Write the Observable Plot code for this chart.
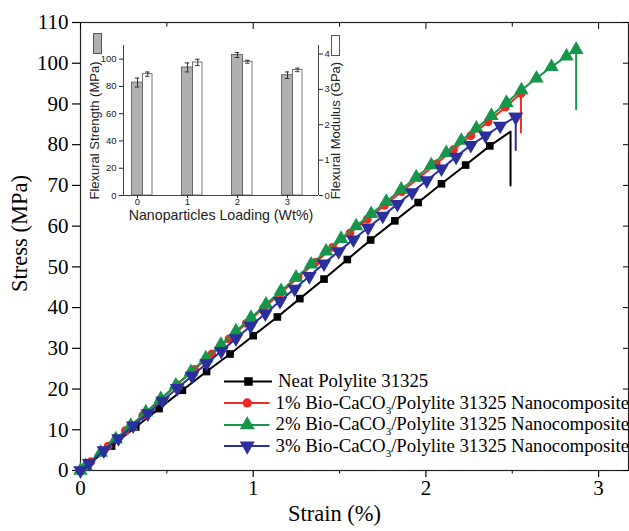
<!DOCTYPE html>
<html><head><meta charset="utf-8">
<script src="https://cdn.jsdelivr.net/npm/d3@7"></script>
<script src="https://cdn.jsdelivr.net/npm/@observablehq/plot@0.6"></script>
<style>
html,body{margin:0;padding:0;background:#fff;}
#wrap{position:relative;width:629px;height:531px;overflow:hidden;background:#fff;}
#wrap svg{position:absolute;}
#legend{position:absolute;left:224px;top:370px;font-family:"Liberation Serif","Times New Roman",serif;font-size:18.8px;color:#000;white-space:nowrap;}
#legend .row{height:21.7px;display:flex;align-items:center;}
#legend .row svg{position:static;margin-right:6px;}
#legend sub{font-size:11px;vertical-align:-5px;line-height:0;}
.ibox{position:absolute;width:7px;height:19px;border:1px solid #555;}
</style></head>
<body><div id="wrap"></div>
<script>
// ---------- main chart data ----------
const neatStrain = [0, 0.04, 0.18, 0.32, 0.455, 0.59, 0.73, 0.866, 1.0, 1.14, 1.27, 1.41, 1.545, 1.68, 1.82, 1.955, 2.09, 2.23, 2.37];
const neatStress = [0, 1.3, 6.0, 10.7, 15.2, 19.7, 24.3, 28.6, 33.1, 37.7, 42.2, 47.0, 51.8, 56.6, 61.3, 65.8, 70.4, 75.0, 79.7];
const p1Strain = [0, 0.06, 0.16, 0.26, 0.36, 0.46, 0.56, 0.66, 0.76, 0.86, 0.96, 1.06, 1.16, 1.26, 1.36, 1.46, 1.56, 1.66, 1.76, 1.86, 1.96, 2.06, 2.16, 2.26, 2.36, 2.46, 2.55];
const p1Stress = [0, 2.2, 6.0, 9.8, 13.5, 17.3, 21.1, 24.8, 28.6, 32.3, 36.1, 39.9, 43.6, 47.4, 51.1, 54.8, 58.3, 61.7, 65.1, 68.5, 71.9, 75.3, 78.8, 82.2, 85.6, 89.2, 92.6];
const p2Strain = [0, 0.03, 0.117, 0.204, 0.291, 0.378, 0.465, 0.552, 0.639, 0.726, 0.813, 0.9, 0.987, 1.074, 1.161, 1.248, 1.335, 1.422, 1.509, 1.596, 1.683, 1.77, 1.857, 1.944, 2.031, 2.118, 2.205, 2.292, 2.379, 2.466, 2.553, 2.64, 2.727, 2.814, 2.87];
const p2Stress = [0, 1.1, 4.4, 7.7, 11.0, 14.3, 17.6, 20.9, 24.2, 27.6, 30.9, 34.2, 37.5, 40.8, 44.1, 47.4, 50.6, 53.8, 56.9, 60.0, 63.0, 66.0, 69.0, 72.0, 75.0, 78.0, 81.0, 84.0, 87.1, 90.3, 93.4, 96.3, 99.1, 101.7, 103.3];
const p3Strain = [0, 0.05, 0.135, 0.22, 0.305, 0.39, 0.475, 0.56, 0.645, 0.73, 0.815, 0.9, 0.985, 1.07, 1.155, 1.24, 1.325, 1.41, 1.495, 1.58, 1.665, 1.75, 1.835, 1.92, 2.005, 2.09, 2.175, 2.26, 2.345, 2.43, 2.52];
const p3Stress = [0, 1.8, 4.9, 7.9, 11.0, 14.0, 17.1, 20.2, 23.2, 26.3, 29.3, 32.4, 35.5, 38.5, 41.6, 44.6, 47.7, 50.8, 53.8, 56.7, 59.6, 62.5, 65.4, 68.3, 71.2, 74.1, 77.0, 79.9, 82.2, 84.6, 86.8];
// failure points (strain, peak stress, stress after drop)
const failStrain = [2.49, 2.55, 2.87, 2.52];
const failStress = [83.2, 92.6, 103.3, 86.8];
const dropStress = [70, 83, 88.7, 78.7];
const seriesNames = ["Neat Polylite 31325", "1% Bio-CaCO3/Polylite 31325 Nanocomposite", "2% Bio-CaCO3/Polylite 31325 Nanocomposite", "3% Bio-CaCO3/Polylite 31325 Nanocomposite"];
const seriesColors = ["#000000", "#ee2a24", "#16964a", "#2b2f9c"];
const xTicks = [0, 1, 2, 3];
const xMinorTicks = [0.5, 1.5, 2.5];
const yTicks = [0, 10, 20, 30, 40, 50, 60, 70, 80, 90, 100, 110];

// ---------- inset data ----------
const loading = [0, 1, 2, 3];
const strength = [82.8, 93.9, 103.0, 88.2];
const strengthErr = [3.3, 3.3, 1.8, 2.4];
const modulus = [3.43, 3.76, 3.78, 3.55];
const modulusErr = [0.06, 0.09, 0.04, 0.05];
const insetYTicks = [0, 20, 40, 60, 80, 100];
const insetY2Ticks = [0, 1, 2, 3, 4];

// custom downward triangle
const triangleDown = {
  draw(context, size) {
    const sqrt3 = Math.sqrt(3);
    const y = -Math.sqrt(size / (sqrt3 * 3));
    context.moveTo(0, -y * 2);
    context.lineTo(-sqrt3 * y, y);
    context.lineTo(sqrt3 * y, y);
    context.closePath();
  }
};
const symbols = ["square", "circle", "triangle", triangleDown];
const radii = [4.3, 4.4, 5.4, 5.4];

const strains = [neatStrain, p1Strain, p2Strain, p3Strain];
const stresses = [neatStress, p1Stress, p2Stress, p3Stress];

const seriesMarks = [];
strains.forEach((xs, s) => {
  const pts = xs.map((x, i) => ({x, y: stresses[s][i]}));
  const path = pts.concat([{x: failStrain[s], y: failStress[s]}, {x: failStrain[s], y: dropStress[s]}]);
  seriesMarks.push(Plot.line(path, {x: "x", y: "y", stroke: seriesColors[s], strokeWidth: 2}));
  const markPts = s === 0 ? pts : pts.concat([{x: failStrain[s], y: failStress[s]}]);
  seriesMarks.push(Plot.dot(markPts, {x: "x", y: "y", symbol: symbols[s], r: radii[s], fill: seriesColors[s], stroke: "none"}));
});

const serif = '"Liberation Serif","Times New Roman",serif';
const fmtInt = d3.format("d");
const main = Plot.plot({
  width: 629, height: 531,
  marginLeft: 80, marginTop: 22, marginRight: 1, marginBottom: 61,
  style: {fontFamily: serif, fontSize: "21px", color: "#000", background: "transparent"},
  x: {domain: [0, 3.173]},
  y: {domain: [0, 110]},
  marks: [
    Plot.frame({stroke: "#222", strokeWidth: 1.2}),
    Plot.axisX({anchor: "bottom", ticks: xTicks, tickSize: 7, tickPadding: 3, tickFormat: fmtInt, label: null, strokeWidth: 1.2}),
    Plot.axisX({anchor: "bottom", ticks: xMinorTicks, tickSize: 3.5, tickFormat: () => "", label: null}),
    Plot.axisX({anchor: "top", ticks: xTicks, tickSize: -6, tickFormat: () => "", label: null}),
    Plot.axisX({anchor: "top", ticks: xMinorTicks, tickSize: -3.5, tickFormat: () => "", label: null}),
    Plot.axisY({anchor: "left", ticks: yTicks, tickSize: 8, tickPadding: 4, tickFormat: fmtInt, label: null, strokeWidth: 1.2}),
    Plot.axisY({anchor: "right", ticks: yTicks, tickSize: -6, tickFormat: () => "", label: null}),
    Plot.text(["Stress (MPa)"], {frameAnchor: "left", textAnchor: "middle", dx: -61, dy: -13, rotate: -90, fontSize: 22.5}),
    Plot.text(["Strain (%)"], {frameAnchor: "bottom", textAnchor: "middle", dx: -20, dy: 50, fontSize: 22.5}),
    ...seriesMarks
  ]
});
main.style.left = "0px"; main.style.top = "0px";
document.getElementById("wrap").appendChild(main);

// ---------- inset ----------
const K = 110 / 4.24; // MPa per GPa on the shared y range
const insetXDomain = [-0.28, 3.62];
const barW = 0.11, barW2 = 0.19, capW = 0.045;
const sans = '"Liberation Sans", Arial, sans-serif';
const g = loading.map((l, i) => ({l, v: strength[i], e: strengthErr[i]}));
const w = loading.map((l, i) => ({l, v: modulus[i] * K, e: modulusErr[i] * K}));
const inset = Plot.plot({
  width: 270, height: 205,
  marginLeft: 43, marginRight: 32, marginTop: 23, marginBottom: 32,
  style: {fontFamily: sans, fontSize: "9.5px", color: "#222", background: "transparent"},
  x: {domain: insetXDomain},
  y: {domain: [0, 110]},
  marks: [
    Plot.rectY(g, {x1: d => d.l - barW, x2: d => d.l + barW, y: "v", fill: "#b0b0b0", stroke: "#555", strokeWidth: 0.8}),
    Plot.rectY(w, {x1: d => d.l + barW, x2: d => d.l + barW + barW2, y: "v", fill: "#fff", stroke: "#555", strokeWidth: 0.8}),
    Plot.ruleX(g, {x: "l", y1: d => d.v - d.e, y2: d => d.v + d.e, stroke: "#333"}),
    Plot.ruleY(g, {y: d => d.v - d.e, x1: d => d.l - capW, x2: d => d.l + capW, stroke: "#333"}),
    Plot.ruleY(g, {y: d => d.v + d.e, x1: d => d.l - capW, x2: d => d.l + capW, stroke: "#333"}),
    Plot.ruleX(w, {x: d => d.l + barW + barW2 / 2, y1: d => d.v - d.e, y2: d => d.v + d.e, stroke: "#333"}),
    Plot.ruleY(w, {y: d => d.v - d.e, x1: d => d.l + barW + barW2 / 2 - capW, x2: d => d.l + barW + barW2 / 2 + capW, stroke: "#333"}),
    Plot.ruleY(w, {y: d => d.v + d.e, x1: d => d.l + barW + barW2 / 2 - capW, x2: d => d.l + barW + barW2 / 2 + capW, stroke: "#333"}),
    Plot.ruleX(insetXDomain, {stroke: "#444"}),
    Plot.ruleY([0], {stroke: "#444"}),
    Plot.axisY({anchor: "left", ticks: insetYTicks, tickSize: 4, tickPadding: 3, tickFormat: fmtInt, label: null}),
    Plot.axisY(insetY2Ticks.map(d => d * K), {anchor: "right", tickSize: 4, tickPadding: 2, tickFormat: d => Math.round(d / K), label: null}),
    Plot.axisX({anchor: "bottom", ticks: loading, tickSize: 3, tickPadding: 0, tickFormat: fmtInt, label: null}),
    Plot.text(["Flexural Strength (MPa)"], {frameAnchor: "left", textAnchor: "middle", dx: -29, dy: 10, rotate: -90, fontSize: 13, fill: "#222"}),
    Plot.text(["Flexural Modulus (GPa)"], {frameAnchor: "right", textAnchor: "middle", dx: 17, dy: 10, rotate: -90, fontSize: 13, fill: "#222"}),
    Plot.text(["Nanoparticles Loading (Wt%)"], {frameAnchor: "bottom", textAnchor: "middle", dy: 24, fontSize: 14.2, fill: "#222"})
  ]
});
inset.style.left = "80px"; inset.style.top = "22px";
document.getElementById("wrap").appendChild(inset);

// inset legend boxes
const b1 = document.createElement("div"); b1.className = "ibox";
b1.style.cssText += "left:93px;top:33px;background:#b0b0b0;";
const b2 = document.createElement("div"); b2.className = "ibox";
b2.style.cssText += "left:331px;top:35px;background:#fff;";
document.getElementById("wrap").appendChild(b1);
document.getElementById("wrap").appendChild(b2);

// ---------- legend ----------
const leg = document.createElement("div"); leg.id = "legend";
seriesNames.forEach((name, s) => {
  const row = document.createElement("div"); row.className = "row";
  const sw = Plot.plot({
    width: 48, height: 20, margin: 0, axis: null,
    x: {domain: [0, 1]}, y: {domain: [0, 1]},
    style: {background: "transparent"},
    marks: [
      Plot.ruleY([0.5], {stroke: seriesColors[s], strokeWidth: 2}),
      Plot.dot([0.5], {x: d => d, y: 0.5, symbol: symbols[s], r: radii[s] + 0.5, fill: seriesColors[s], stroke: "none"})
    ]
  });
  row.appendChild(sw);
  const t = document.createElement("span");
  t.innerHTML = name.replace("CaCO3", "CaCO<sub>3</sub>");
  row.appendChild(t);
  leg.appendChild(row);
});
document.getElementById("wrap").appendChild(leg);
</script>
</body></html>
